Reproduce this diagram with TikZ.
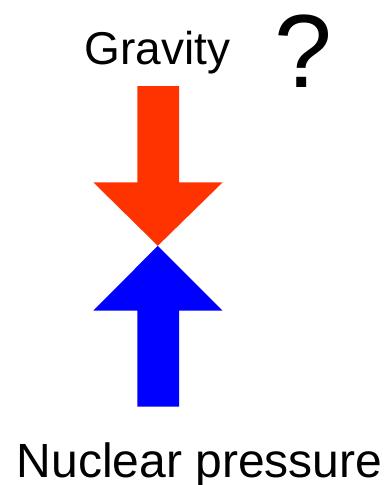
\documentclass[tikz,border=0pt]{standalone}
\usepackage{fontspec}
\setmainfont{Liberation Sans}
\definecolor{gravred}{RGB}{255,51,0}
\definecolor{nucblue}{RGB}{0,0,255}

\begin{document}
\begin{tikzpicture}[
    x=1pt, y=1pt,
    lbl/.style={anchor=base, inner sep=0pt, text=black},
    fatarrow/.style={draw=none}
]
\useasboundingbox (0,0) rectangle (384,-485);

% labels
\node[lbl, font=\fontsize{46}{55}\selectfont] (gravity) at (157.5,-64) {Gravity};
\node[lbl, font=\fontsize{104}{116}\selectfont] (quest) at (303,-87) {?};
\node[lbl, font=\fontsize{48}{57}\selectfont] (nuclear) at (199.5,-477.5) {Nuclear pressure};

% gravity arrow (down)
\fill[fatarrow, gravred] (137.3,-86) -- (179,-86) -- (179,-182.3) -- (222.7,-182.3)
    -- (157.8,-245.8) -- (93.3,-182.3) -- (137.3,-182.3) -- cycle;

% pressure arrow (up)
\fill[fatarrow, nucblue] (157.8,-245.8) -- (222.7,-310.7) -- (179,-310.7) -- (179,-406.7)
    -- (137.3,-406.7) -- (137.3,-310.7) -- (93.3,-310.7) -- cycle;

\end{tikzpicture}
\end{document}
